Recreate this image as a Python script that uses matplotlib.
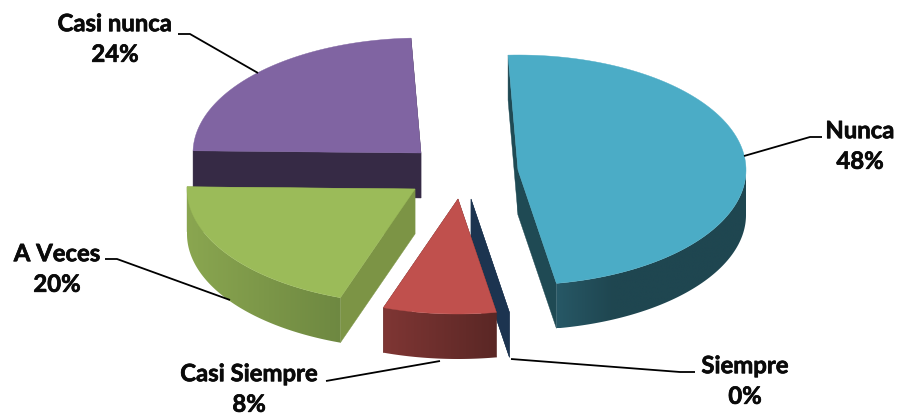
import numpy as np
import matplotlib
matplotlib.use("Agg")
import matplotlib.pyplot as plt
import matplotlib.patheffects as pe
from matplotlib.colors import to_rgb
from matplotlib.patches import Polygon

# ---- data ----
categories = ["Nunca", "Siempre", "Casi Siempre", "A Veces", "Casi nunca"]
percent_values = [48, 0, 8, 20, 24]

# ---- layout and style (pixel space of the figure) ----
START_ANGLE = -2.5
RX, RY, DEPTH = 228, 115, 45
apex_positions = [(518, 170), (471, 199), (458, 199), (415, 189), (421, 153)]
top_colors = ["#4BACC6", "#4F81BD", "#C0504D", "#9BBB59", "#8064A2"]
cut_colors = ["#1F4A54", "#1C3450", "#5A2725", "#7C9445", "#362A45"]
# wall colour at the left and at the right end of each wall, with the share of the
# wall's width over which the change from one to the other happens
wall_left = ["#275866", "#1C3450", "#7F3634", "#8AA650", "#362A45"]
wall_right = ["#1F4650", "#1C3450", "#5A2725", "#6E8841", "#362A45"]
wall_ramp = [0.3, 1.0, 1.0, 1.0, 1.0]
draw_order = [4, 0, 1, 2, 3]
label_positions = [(860, 146), (745, 381), (249, 389), (57, 269), (115, 39)]
leader_paths = [
    [(822, 137), (810, 137), (744, 156)],
    [(695, 372), (680, 372), (511, 359)],
    [(326, 381), (440, 361)],
    [(105, 259), (117, 259), (230, 300)],
    [(178, 34), (190, 34), (258, 73)],
]

plt.rcParams["font.family"] = ["Lato", "DejaVu Sans"]
fig = plt.figure(figsize=(8.99, 4.19), dpi=100)
ax = fig.add_axes([0, 0, 1, 1])
ax.set_xlim(0, 899)
ax.set_ylim(419, 0)
ax.axis("off")


def arc(apex, t0, t1, n=120):
    t = np.radians(np.linspace(t0, t1, n))
    return np.column_stack([apex[0] + RX * np.sin(t), apex[1] - RY * np.cos(t)])


def cut_face(apex, t, color, z):
    p = arc(apex, t, t, 1)[0]
    pts = [apex, p, (p[0], p[1] + DEPTH), (apex[0], apex[1] + DEPTH)]
    ax.add_patch(Polygon(pts, closed=True, fc=color, ec=color, lw=0.3, zorder=z))


def outer_wall(apex, t0, t1, c_left, c_right, ramp, z):
    a, b = max(t0, 90), min(t1, 270)
    if b <= a:
        return
    pts = arc(apex, a, b, 120)
    poly = np.vstack([pts, pts[::-1] + [0, DEPTH]])
    xmin, xmax = poly[:, 0].min(), poly[:, 0].max()
    ymin, ymax = poly[:, 1].min(), poly[:, 1].max()
    f = np.clip(np.linspace(0, 1, 256) / ramp, 0, 1)[:, None]
    c_left, c_right = np.array(to_rgb(c_left)), np.array(to_rgb(c_right))
    img = (c_left + (c_right - c_left) * f)[None, :, :]
    im = ax.imshow(img, extent=(xmin, xmax, ymax, ymin), aspect="auto", zorder=z,
                   interpolation="bilinear")
    patch = Polygon(poly, closed=True, transform=ax.transData, fc="none", ec="none")
    ax.add_patch(patch)
    im.set_clip_path(patch)


edges = START_ANGLE + np.concatenate([[0], np.cumsum(percent_values)]) * 3.6
for order, i in enumerate(draw_order):
    t0, t1 = edges[i], edges[i + 1]
    apex = apex_positions[i]
    z = 2 + order
    cut_face(apex, t0, cut_colors[i], z)
    cut_face(apex, t1, cut_colors[i], z)
    outer_wall(apex, t0, t1, wall_left[i], wall_right[i], wall_ramp[i], z)
    if percent_values[i] > 0:
        top = np.vstack([[apex], arc(apex, t0, t1)])
        ax.add_patch(Polygon(top, closed=True, fc=top_colors[i], ec=top_colors[i],
                             lw=0.3, zorder=z + 0.5))

ax.set_xlim(0, 899)
ax.set_ylim(419, 0)

for i, path in enumerate(leader_paths):
    xs, ys = zip(*path)
    ax.plot(xs, ys, color="black", lw=1.3, zorder=20, solid_capstyle="butt")
    x, y = label_positions[i]
    ax.text(x, y, f"{categories[i]}\n{percent_values[i]}%", ha="center", va="center",
            fontsize=17.2, fontweight="bold", color="#0A0A0A", linespacing=1.4, zorder=21,
            path_effects=[pe.withStroke(linewidth=0.5, foreground="#0A0A0A")])

fig.savefig("out.png", dpi=100, facecolor="white")
